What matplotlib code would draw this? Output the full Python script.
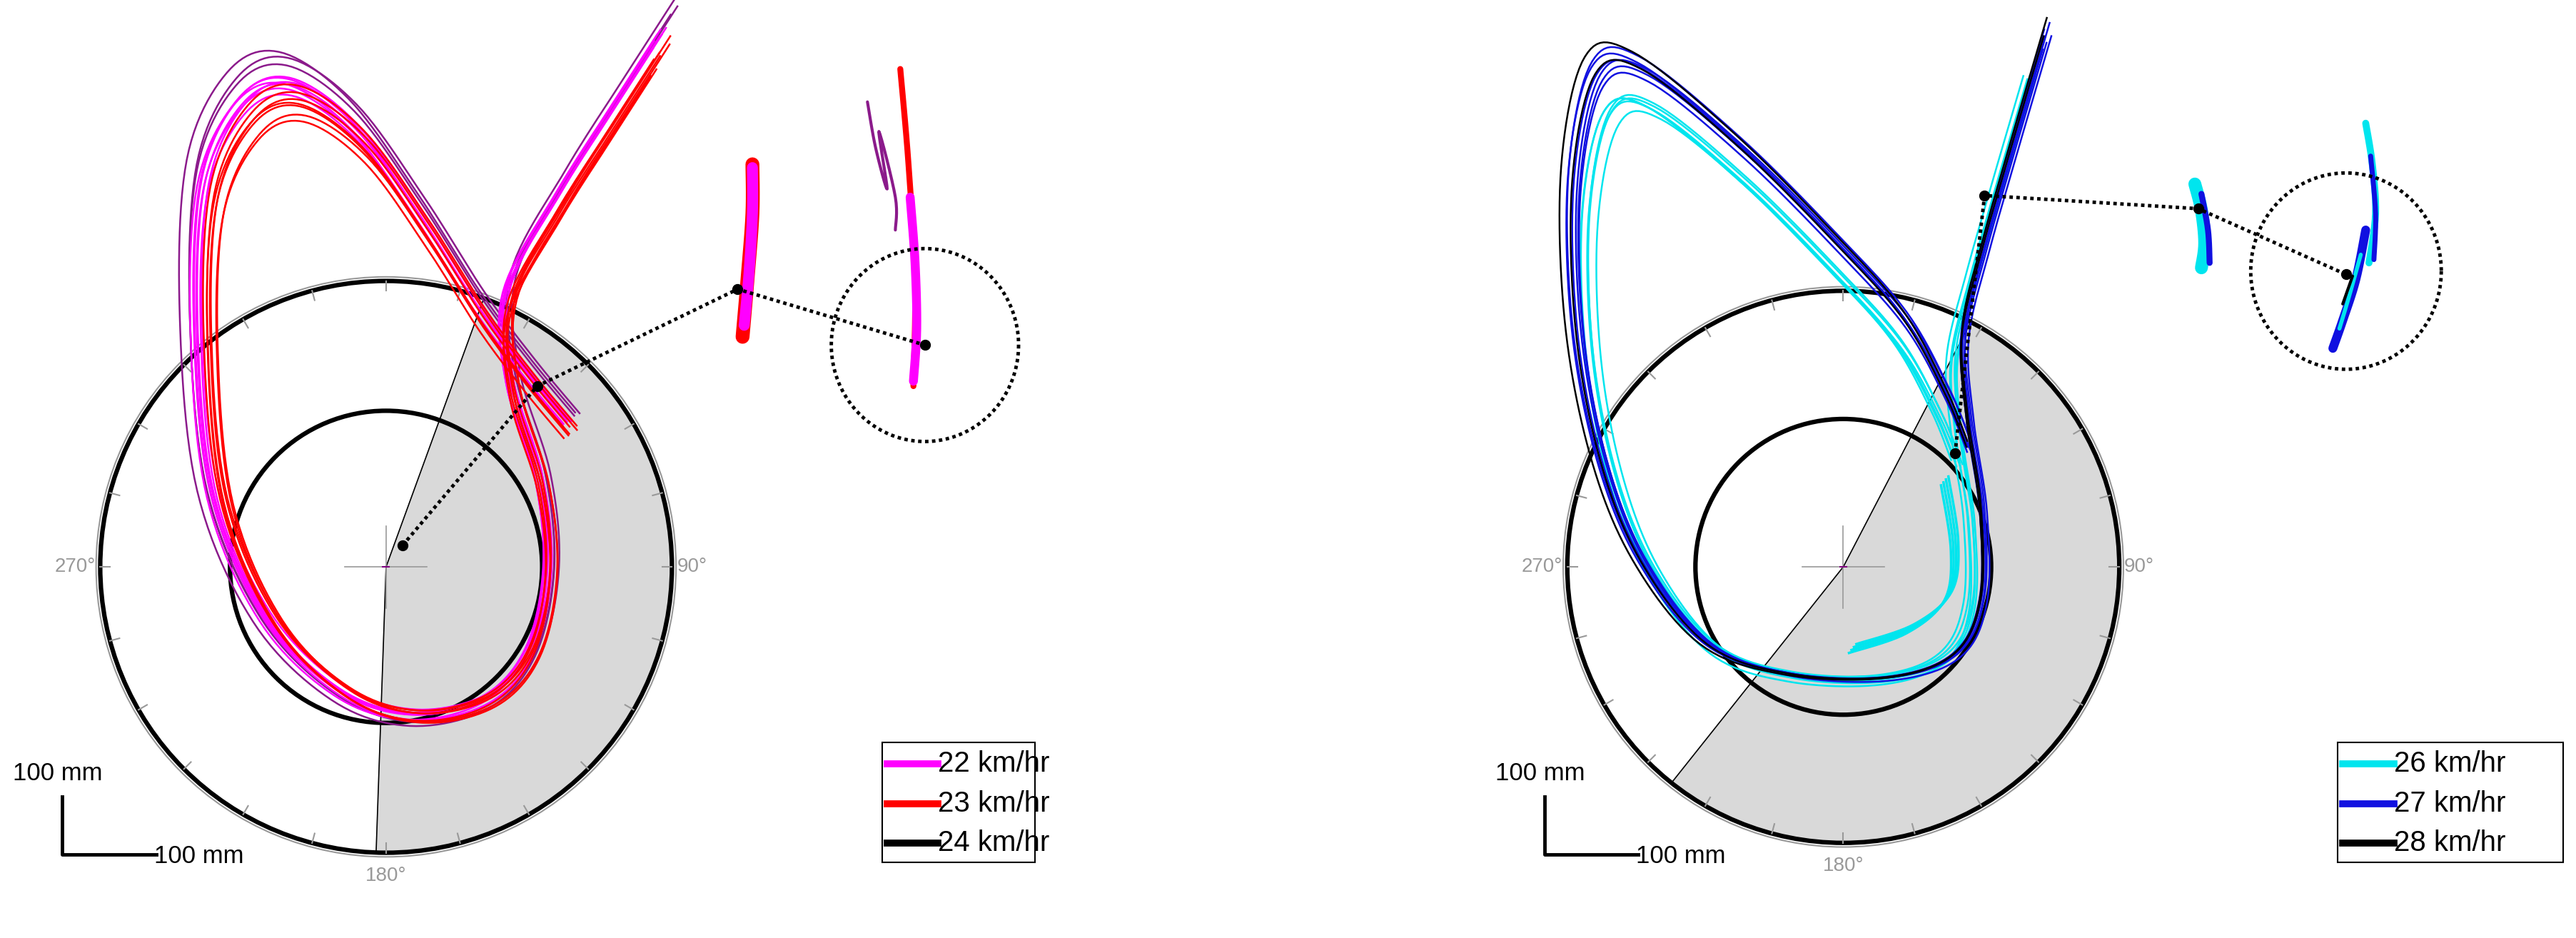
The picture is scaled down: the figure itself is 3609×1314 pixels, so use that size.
import numpy as np
import matplotlib
matplotlib.use("Agg")
import matplotlib.pyplot as plt
from matplotlib.patches import Circle

# ---- data (units: thumbnail px of a 1568-wide view) ----
L_center = (235, 345); L_r_out = 174; L_r_in = 95
R_center = (1122, 345); R_r_out = 168; R_r_in = 90
L_wedge = (20, 182)     # clockwise-from-north degrees
R_wedge = (27.5, 218.5)

L_path_x = [402, 375, 340, 308, 310, 328, 333, 322, 295, 250, 205, 160, 128, 118, 122, 145, 175, 215, 255, 290, 320, 345]
L_path_y = [18, 60, 115, 175, 230, 290, 345, 395, 425, 435, 420, 375, 300, 200, 110, 60, 48, 75, 130, 185, 225, 255]
R_path_x = [1245, 1228, 1208, 1195, 1198, 1206, 1206, 1190, 1150, 1090, 1040, 1000, 975, 960, 958, 972, 1000, 1060, 1120, 1160, 1185, 1198]
R_path_y = [22, 80, 150, 205, 255, 310, 365, 398, 412, 410, 392, 342, 280, 200, 110, 45, 42, 90, 150, 195, 240, 272]
R_tail_x = [1186, 1192, 1188, 1165, 1130]
R_tail_y = [290, 330, 360, 380, 392]

L_traces = [("#8b1a8b", 1.06, 0, -6), ("#8b1a8b", 1.03, 2, -3), ("#8b1a8b", 1.045, 4, -5),
            ("#ff00ff", 1.0, 0, 0), ("#ff00ff", 0.99, 1, 2), ("#ff00ff", 0.98, -1, 3), ("#ff00ff", 1.01, 2, 1),
            ("#ff00ff", 0.97, 0, 5), ("#ff00ff", 1.0, -2, 3), ("#ff00ff", 0.985, 3, 0),
            ("red", 0.95, 3, 8), ("red", 0.96, 5, 6), ("red", 0.97, 4, 10), ("red", 0.94, 6, 12),
            ("red", 1.0, 6, 4), ("red", 0.93, 4, 14), ("red", 0.99, 7, 7)]
R_traces = [("#00e5ee", 0.93, -2, 12), ("#00e5ee", 0.94, 0, 10), ("#00e5ee", 0.95, -3, 14), ("#00e5ee", 0.92, 2, 16),
            ("#00e5ee", 0.935, -5, 11), ("#00e5ee", 0.945, 1, 13),
            ("#1010e0", 1.0, 0, 0), ("#1010e0", 1.01, -2, -2), ("#1010e0", 0.99, 2, 2), ("#1010e0", 1.02, 0, -4),
            ("#1010e0", 0.98, 1, 4), ("#1010e0", 1.005, 3, 1), ("black", 1.03, -3, -5), ("black", 1.0, -1, 0)]
R_tail_offsets = [0, 3, 6, 9]

# clusters: (x list, y list, colour, width)
L_clusters = [([452, 455, 458, 458], [205, 170, 130, 100], "red", 14),
              ([453, 456, 458, 458], [198, 165, 130, 102], "#ff00ff", 11),
              ([548, 553, 557, 556], [42, 100, 170, 235], "red", 6),
              ([554, 557, 558, 556], [120, 160, 200, 232], "#ff00ff", 9),
              ([528, 533, 540, 535, 545, 545], [62, 90, 115, 80, 120, 140], "#8b1a8b", 3)]
R_clusters = [([1336, 1340, 1342, 1340], [112, 128, 148, 163], "#00e5ee", 13),
              ([1340, 1344, 1345], [118, 140, 160], "#1010e0", 6),
              ([1440, 1444, 1446, 1442], [75, 100, 130, 160], "#00e5ee", 7),
              ([1443, 1446, 1445], [95, 130, 158], "#1010e0", 5),
              ([1420, 1426, 1434, 1440], [212, 195, 170, 140], "#1010e0", 9),
              ([1424, 1430, 1437], [200, 180, 155], "#00e5ee", 4),
              ([1426, 1432], [185, 168], "black", 3)]

L_dots_x = [245, 327, 449, 563]; L_dots_y = [332, 235, 176, 210]
R_dots_x = [1190, 1208, 1338, 1428]; R_dots_y = [276, 119, 127, 167]
L_dcircle = (563, 210, 57); R_dcircle = (1428, 165, 58)

L_labels = ["22 km/hr", "23 km/hr", "24 km/hr"]; L_colors = ["#ff00ff", "red", "black"]
R_labels = ["26 km/hr", "27 km/hr", "28 km/hr"]; R_colors = ["#00e5ee", "#1010e0", "black"]

W, H = 1568, 1314 * 1568 / 3609
fig = plt.figure(figsize=(36.09, 13.14), dpi=100)
ax = fig.add_axes([0, 0, 1, 1])
ax.set_xlim(0, W); ax.set_ylim(H, 0); ax.axis("off")

def smooth(x, y, n=12):
    x = np.asarray(x, float); y = np.asarray(y, float)
    px = np.concatenate([[x[0]], x, [x[-1]]]); py = np.concatenate([[y[0]], y, [y[-1]]])
    ox, oy = [], []
    for i in range(1, len(px) - 2):
        t = np.linspace(0, 1, n, endpoint=False)[:, None]
        P = np.array([[px[i-1], py[i-1]], [px[i], py[i]], [px[i+1], py[i+1]], [px[i+2], py[i+2]]])
        c = 0.5 * ((2 * P[1]) + (-P[0] + P[2]) * t + (2*P[0] - 5*P[1] + 4*P[2] - P[3]) * t**2 + (-P[0] + 3*P[1] - 3*P[2] + P[3]) * t**3)
        ox.extend(c[:, 0]); oy.extend(c[:, 1])
    ox.append(x[-1]); oy.append(y[-1])
    return np.array(ox), np.array(oy)

FONT = "Liberation Sans"

def panel(c, r_out, r_in, wedge, px, py, traces, clusters, dots, dc, labels, colors, legx, legw, sbx, tail=None):
    cx, cy = c
    a1, a2 = wedge
    th = np.radians(np.linspace(a1, a2, 200))
    wx = np.concatenate([[cx], cx + r_out * np.sin(th), [cx]]); wy = np.concatenate([[cy], cy - r_out * np.cos(th), [cy]])
    ax.fill(wx, wy, color="#d9d9d9", zorder=1)
    for a in (a1, a2):
        ax.plot([cx, cx + r_out*np.sin(np.radians(a))], [cy, cy - r_out*np.cos(np.radians(a))], color="black", lw=1.2, zorder=2)
    ax.add_patch(Circle((cx, cy), r_out + 2.5, fill=False, ec="#999999", lw=1.5, zorder=2))
    ax.add_patch(Circle((cx, cy), r_out, fill=False, ec="black", lw=4.5, zorder=2))
    ax.add_patch(Circle((cx, cy), r_in, fill=False, ec="black", lw=4.5, zorder=2))
    for a in range(0, 360, 15):
        s, co = np.sin(np.radians(a)), np.cos(np.radians(a))
        ax.plot([cx + (r_out - 6)*s, cx + r_out*s], [cy - (r_out - 6)*co, cy - r_out*co], color="#999999", lw=1.5, zorder=2)
    ax.plot([cx - 25, cx + 25], [cy, cy], color="#999999", lw=1.2, zorder=2)
    ax.plot([cx, cx], [cy - 25, cy + 25], color="#999999", lw=1.2, zorder=2)
    ax.plot([cx - 2, cx + 2], [cy, cy], color="purple", lw=1.5, zorder=2)
    ax.text(cx - r_out - 3, cy, "270°", color="#999999", fontsize=20, ha="right", va="center", family=FONT)
    ax.text(cx + r_out + 3, cy, "90°", color="#999999", fontsize=20, ha="left", va="center", family=FONT)
    ax.text(cx, cy + r_out + 14, "180°", color="#999999", fontsize=20, ha="center", va="center", family=FONT)
    sx, sy = smooth(px, py)
    mx, my = np.mean(px), np.mean(py)
    for col, s, dx, dy in traces:
        ax.plot(mx + (sx - mx)*s + dx, my + (sy - my)*s + dy, color=col, lw=1.8, zorder=3)
    if tail is not None:
        tx, ty = smooth(*tail[:2])
        for k in tail[2]:
            ax.plot(tx - k*0.5, ty + k*0.6, color="#00e5ee", lw=2.5, zorder=3)
    for xx, yy, cc, w in clusters:
        qx, qy = smooth(xx, yy, 8)
        ax.plot(qx, qy, color=cc, lw=w, solid_capstyle="round", zorder=3)
    ax.plot(dots[0], dots[1], ls=(0, (1, 1)), color="black", lw=3.5, zorder=4)
    ax.plot(dots[0], dots[1], "o", color="black", ms=10, ls="none", zorder=5)
    t = np.linspace(0, 2*np.pi, 300)
    ax.plot(dc[0] + dc[2]*np.cos(t), dc[1] + dc[2]*1.03*np.sin(t), ls=(0, (1, 1)), color="black", lw=3.5, zorder=4)
    ax.plot([sbx, sbx, sbx + 57], [485, 520, 520], color="black", lw=3.5, zorder=4)
    ax.text(sbx - 30, 478, "100 mm", fontsize=25, ha="left", va="bottom", family=FONT)
    ax.text(sbx + 56, 521, "100 mm", fontsize=25, ha="left", va="center", family=FONT)
    lx, ly, lh = legx, 452, 73
    ax.add_patch(plt.Rectangle((lx, ly), legw, lh, fill=False, ec="black", lw=1.5, zorder=5))
    for i, (lab, col) in enumerate(zip(labels, colors)):
        yy = ly + 13 + i*24
        ax.plot([lx + 3, lx + 34], [yy, yy], color=col, lw=7, zorder=6)
        ax.text(lx + 34, yy, lab, fontsize=29, ha="left", va="center", family=FONT, zorder=6)

panel(L_center, L_r_out, L_r_in, L_wedge, L_path_x, L_path_y, L_traces, L_clusters,
      (L_dots_x, L_dots_y), L_dcircle, L_labels, L_colors, 537, 93, 38)
panel(R_center, R_r_out, R_r_in, R_wedge, R_path_x, R_path_y, R_traces, R_clusters,
      (R_dots_x, R_dots_y), R_dcircle, R_labels, R_colors, 1423, 137, 940,
      tail=(R_tail_x, R_tail_y, R_tail_offsets))

fig.savefig("out.png", dpi=100)
